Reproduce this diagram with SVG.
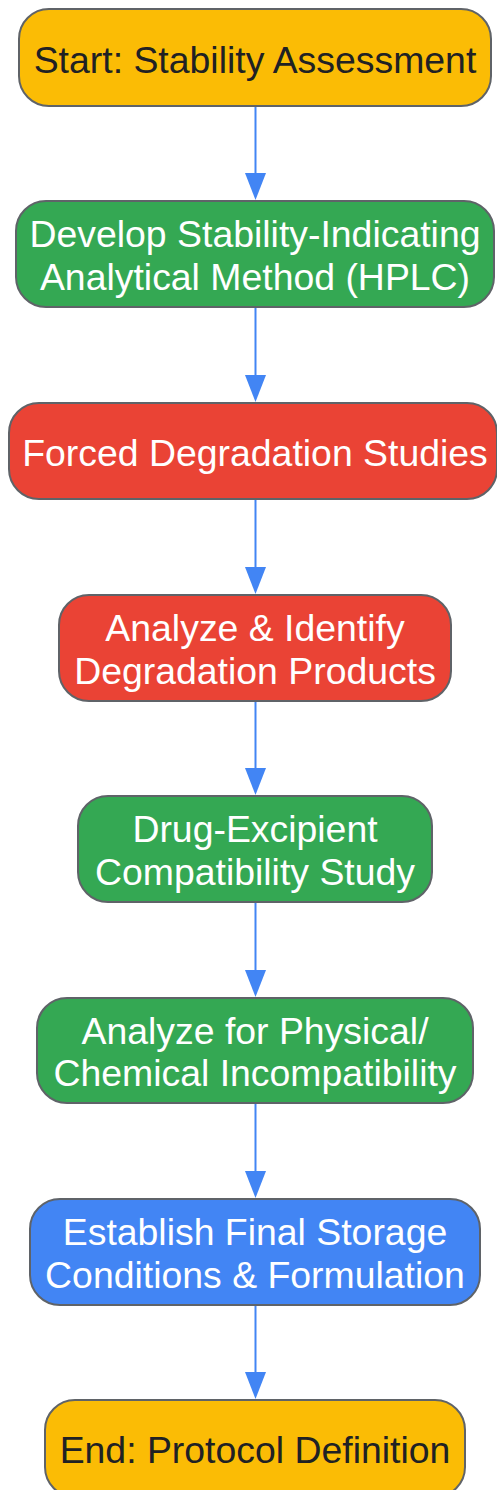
<svg xmlns="http://www.w3.org/2000/svg" width="497" height="1490" viewBox="0 0 497 1490">
<style>
.n{stroke:#5f6368;stroke-width:2}
.y{fill:#fbbc05}.g{fill:#34a853}.r{fill:#ea4335}.b{fill:#4285f4}
text{font-family:"Liberation Sans",Arial,sans-serif;font-size:37.4px;text-anchor:middle}
.d{fill:#202124}.w{fill:#ffffff}
.e{stroke:#4285f4;stroke-width:2;fill:none}
.h{fill:#4285f4}
</style>
<rect width="497" height="1490" fill="#ffffff"/>
<g id="edges">
<path class="e" d="M255.5,106 V173"/><path class="h" d="M245,173 L266,173 L255.5,200 Z"/>
<path class="e" d="M255.5,307 V375"/><path class="h" d="M245,375 L266,375 L255.5,402 Z"/>
<path class="e" d="M255.5,499 V567"/><path class="h" d="M245,567 L266,567 L255.5,594 Z"/>
<path class="e" d="M255.5,701 V768"/><path class="h" d="M245,768 L266,768 L255.5,795 Z"/>
<path class="e" d="M255.5,902 V970"/><path class="h" d="M245,970 L266,970 L255.5,997 Z"/>
<path class="e" d="M255.5,1103 V1171"/><path class="h" d="M245,1171 L266,1171 L255.5,1198 Z"/>
<path class="e" d="M255.5,1305 V1372"/><path class="h" d="M245,1372 L266,1372 L255.5,1399 Z"/>
</g>
<g id="start">
<rect class="n y" x="19" y="9" width="472" height="97" rx="30"/>
<text class="d" x="255" y="73">Start: Stability Assessment</text>
</g>
<g id="develop">
<rect class="n g" x="16" y="201" width="478" height="106" rx="30"/>
<text class="w" x="255" y="247">Develop Stability-Indicating</text>
<text class="w" x="255" y="289.5">Analytical Method (HPLC)</text>
</g>
<g id="forced">
<rect class="n r" x="9" y="403" width="488" height="96" rx="30"/>
<text class="w" x="255" y="466">Forced Degradation Studies</text>
</g>
<g id="analyze">
<rect class="n r" x="59" y="595" width="392" height="106" rx="30"/>
<text class="w" x="255" y="641">Analyze &amp; Identify</text>
<text class="w" x="255" y="683.5">Degradation Products</text>
</g>
<g id="excipient">
<rect class="n g" x="78" y="796" width="354" height="106" rx="30"/>
<text class="w" x="255" y="842">Drug-Excipient</text>
<text class="w" x="255" y="884.5">Compatibility Study</text>
</g>
<g id="incompat">
<rect class="n g" x="37" y="998" width="436" height="105" rx="30"/>
<text class="w" x="255" y="1043.5">Analyze for Physical/</text>
<text class="w" x="255" y="1086">Chemical Incompatibility</text>
</g>
<g id="establish">
<rect class="n b" x="30" y="1199" width="450" height="106" rx="30"/>
<text class="w" x="255" y="1245">Establish Final Storage</text>
<text class="w" x="255" y="1287.5">Conditions &amp; Formulation</text>
</g>
<g id="end">
<rect class="n y" x="45" y="1400" width="420" height="97" rx="30"/>
<text class="d" x="255" y="1463">End: Protocol Definition</text>
</g>
</svg>
